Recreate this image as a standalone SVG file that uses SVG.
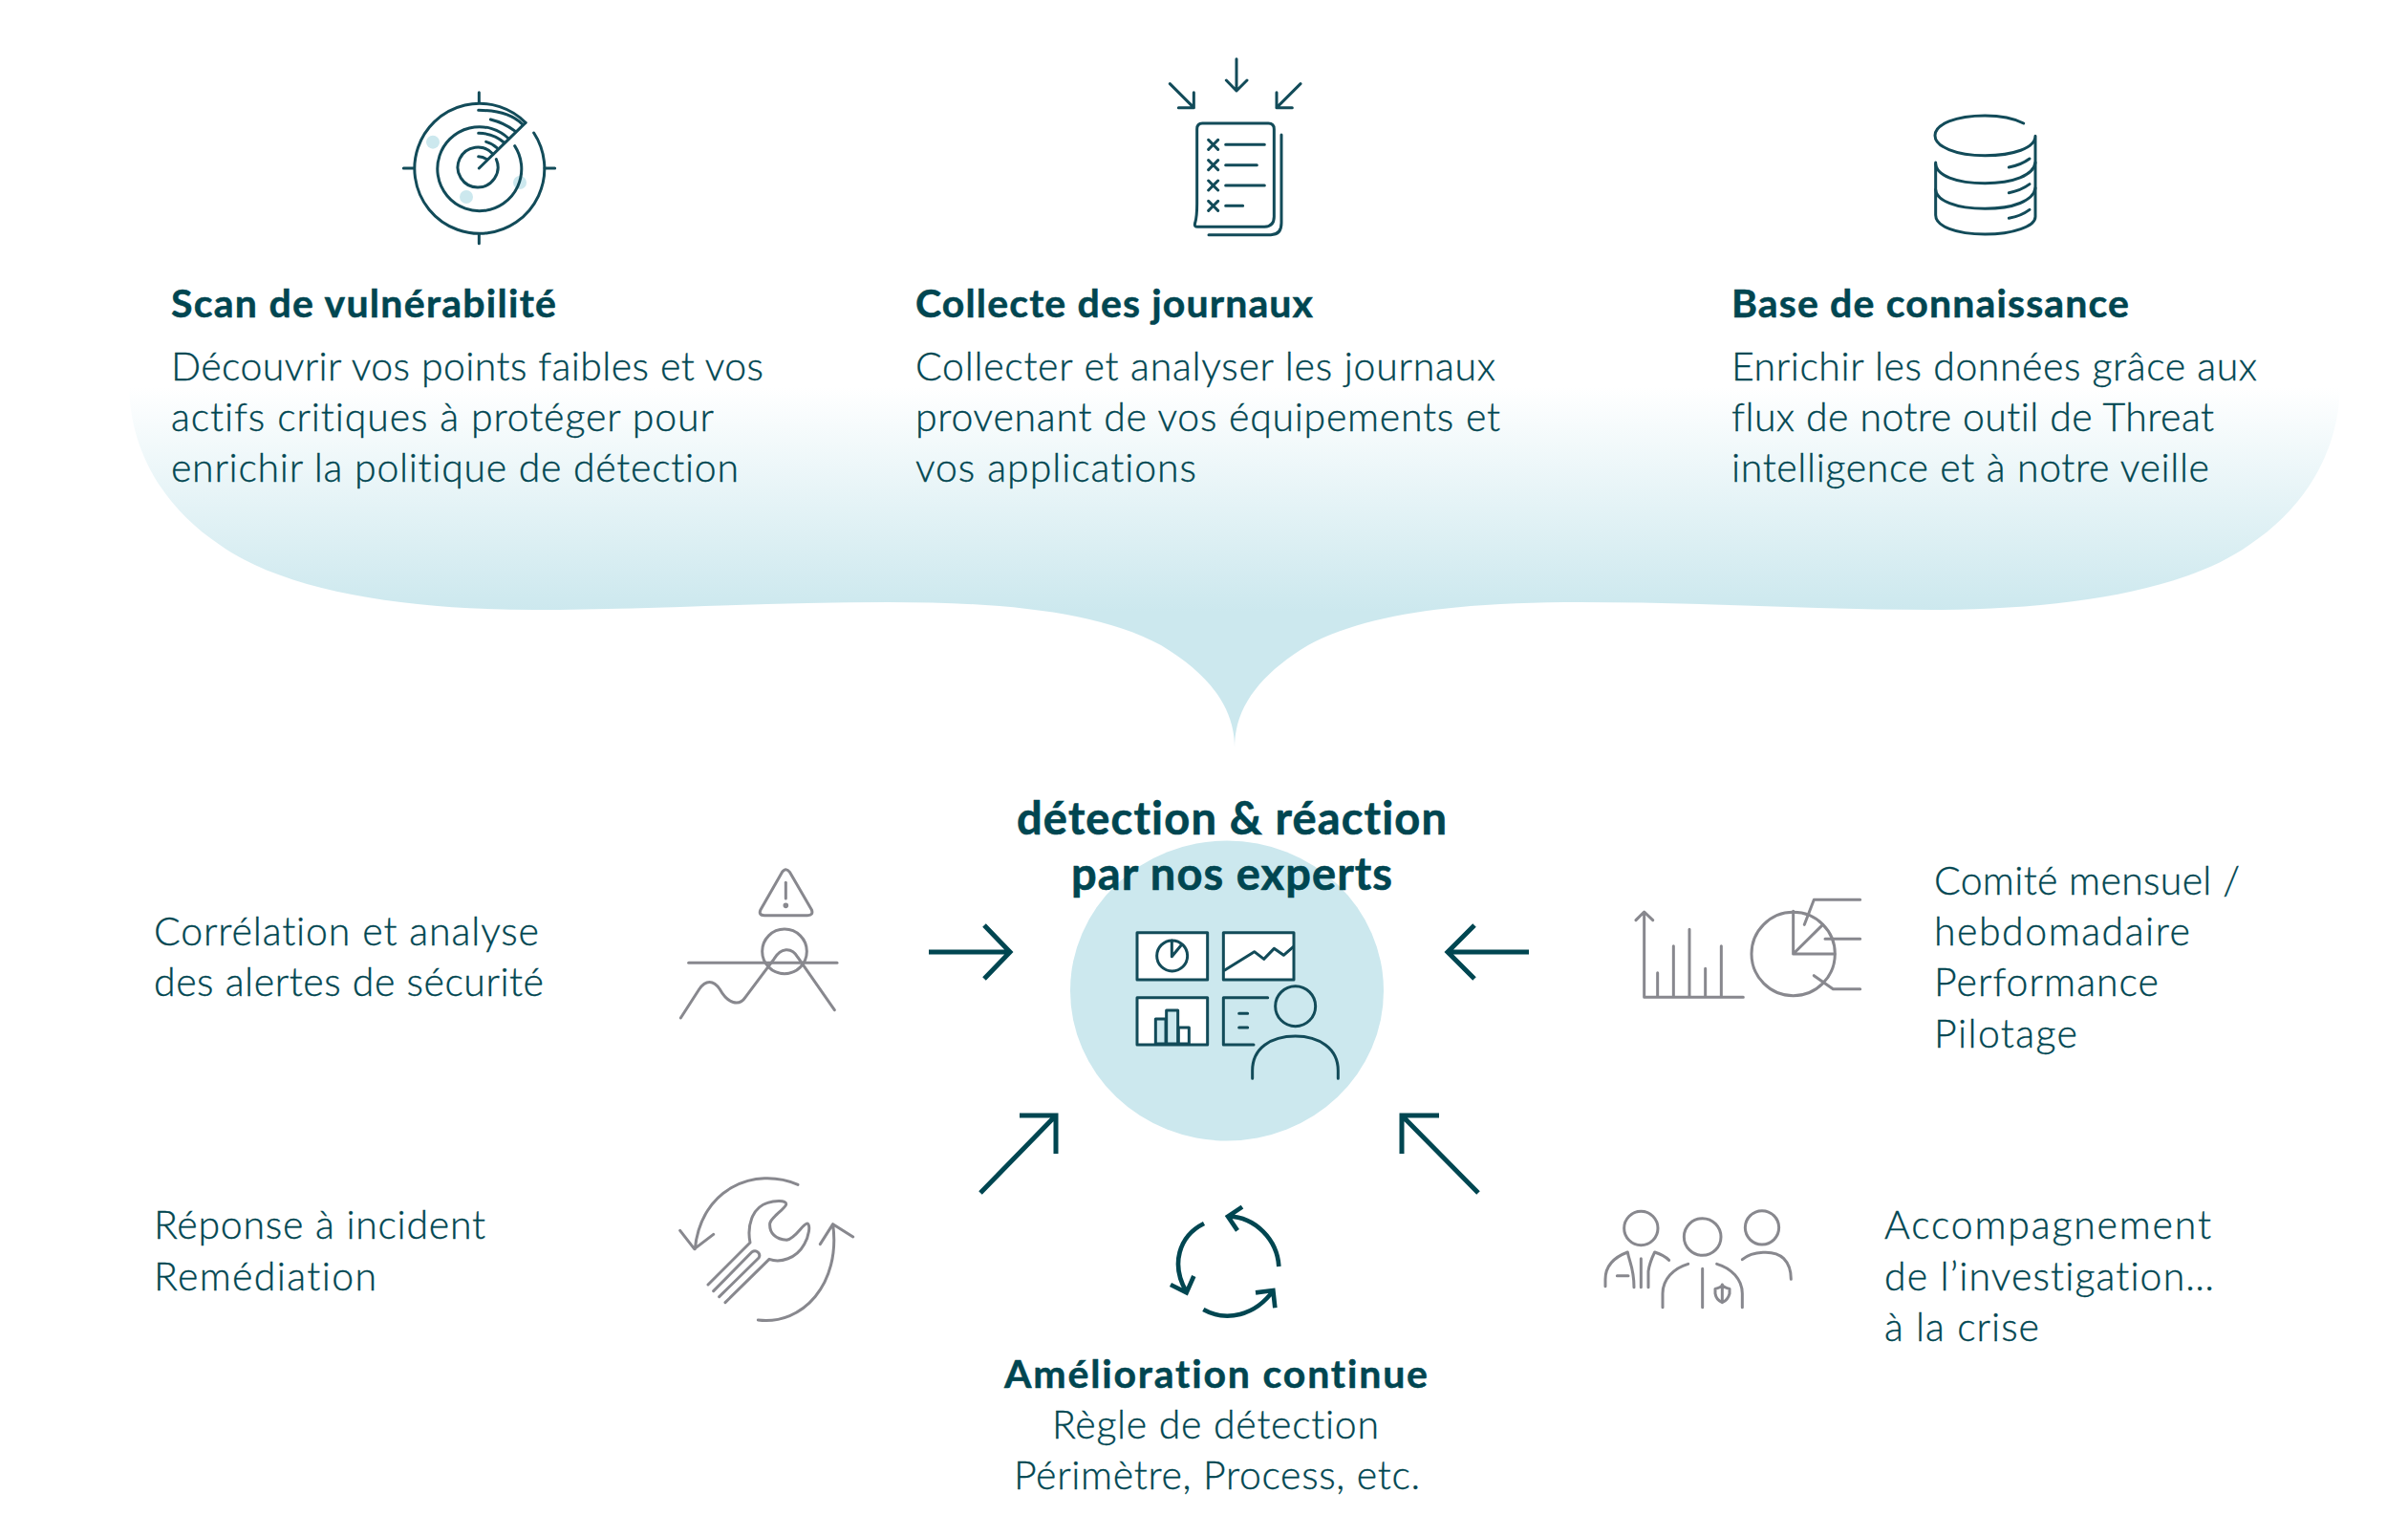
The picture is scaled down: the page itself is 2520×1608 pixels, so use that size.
<svg xmlns="http://www.w3.org/2000/svg" width="2520" height="1608" viewBox="0 0 2520 1608">
<style>
text{font-family:"Lato","Liberation Sans",sans-serif;fill:#004651;font-size:41px;font-weight:300;stroke:#004651;stroke-width:.35;font-variant-ligatures:none}
.b{font-weight:700;font-size:41px;stroke-width:.5}
.h{font-weight:700;font-size:47px;stroke-width:.6}
.d{fill:none;stroke:#124b59;stroke-width:9;stroke-linecap:round;stroke-linejoin:round}
.g{fill:none;stroke:#88888e;stroke-width:9;stroke-linecap:round;stroke-linejoin:round}
.a{fill:none;stroke:#004651;stroke-width:5;stroke-linecap:butt;stroke-linejoin:miter}
</style>
<defs><linearGradient id="fade" gradientUnits="userSpaceOnUse" x1="0" y1="405" x2="0" y2="640"><stop offset="0" stop-color="#fff"/><stop offset="1" stop-color="#cce8ee"/></linearGradient></defs>
<rect width="2520" height="1608" fill="#fff"/>
<path id="funnel" fill="url(#fade)" d="M135 400C135 470 170 530 230 570C300 620 430 638 560 638C680 638 800 630 930 630C1050 630 1150 640 1215 675C1265 705 1292 740 1292 782C1292 740 1319 705 1369 675C1434 640 1534 630 1654 630C1784 630 1904 638 2024 638C2154 638 2284 620 2354 570C2414 530 2449 470 2449 400Z"/>

<g id="scan">
<g transform="translate(380 50) scale(.33333)">
<g fill="#cce8ee"><circle cx="219" cy="296" r="21"/><circle cx="324" cy="468" r="21"/><circle cx="492" cy="423" r="21"/></g>
<g class="d"><path d="M536 267A204 204 0 1 1 510 235"/><path d="M476 308A132 132 0 1 1 457 285"/><path d="M418 350A63 63 0 1 1 408 334"/><path d="M364 378L510 235"/><path d="M364 140V172M364 584V614M127 378H158M570 378H602"/><path d="M362 196C410 196 465 205 500 240M400 225C430 232 455 245 478 262M362 268C390 268 420 278 442 297M386 295C398 298 410 305 420 314M362 341C372 341 380 344 388 350"/></g>
</g>
<text class="b" x="179" y="332" textLength="403">Scan de vulnérabilité</text>
<text x="179" y="398" textLength="620">Découvrir vos points faibles et vos</text>
<text x="179" y="451" textLength="568">actifs critiques à protéger pour</text>
<text x="179" y="504" textLength="594">enrichir la politique de détection</text>
</g>

<g id="journaux">
<g transform="translate(1190 40) scale(.33333)" class="d">
<path d="M312 65V165M280 132L312 165L345 132M103 143L178 218M178 170V218H130M513 143L438 218M438 170V218H487"/>
<path d="M205 267H412Q430 267 430 285V560Q430 590 400 592H190Q178 592 182 580Q188 560 188 520V285Q188 267 205 267Z"/>
<path d="M453 303V580Q453 617 420 617H225"/>
<path d="M224 319L254 349M254 319L224 349M224 383L254 413M254 383L224 413M224 447L254 477M254 447L224 477M224 511L254 541M254 511L224 541"/>
<path d="M278 334H400M278 398H376M278 462H400M278 526H332"/>
</g>
<text class="b" x="958" y="332" textLength="416">Collecte des journaux</text>
<text x="958" y="398" textLength="607">Collecter et analyser les journaux</text>
<text x="958" y="451" textLength="612">provenant de vos équipements et</text>
<text x="958" y="504" textLength="294">vos applications</text>
</g>

<g id="base">
<g transform="translate(2000 100) scale(.33333)" class="d">
<path d="M353 87C320 70 280 63 232 63C140 63 75 90 75 125C75 160 140 188 232 188C320 188 390 165 390 127V380C390 410 320 435 232 435C140 435 77 410 77 375V210"/>
<path d="M77 215C80 250 140 275 232 275C320 275 385 250 390 210M77 295C80 330 140 355 232 355C320 355 385 330 390 290"/>
<path d="M307 225Q345 218 372 198M307 305Q345 298 372 278M307 385Q345 378 372 358"/>
</g>
<text class="b" x="1812" y="332" textLength="416">Base de connaissance</text>
<text x="1812" y="398" textLength="550">Enrichir les données grâce aux</text>
<text x="1812" y="451" textLength="505">flux de notre outil de Threat</text>
<text x="1812" y="504" textLength="500">intelligence et à notre veille</text>
</g>

<g id="centre">
<ellipse cx="1284" cy="1036.5" rx="164" ry="157" fill="#cce8ee"/>
<g transform="translate(1100 880) scale(.33333)" class="d">
<rect x="270" y="287" width="221" height="148" fill="#fff"/>
<rect x="541" y="287" width="221" height="148" fill="#fff"/>
<rect x="270" y="491" width="221" height="148" fill="#fff"/>
<circle cx="380" cy="360" r="48"/><path d="M379 362V312M379 362L410 325"/>
<path d="M545 405L638 347L668 370L700 337L730 358L760 332"/>
<rect x="328" y="558" width="32" height="78" fill="#cce8ee"/><rect x="362" y="531" width="36" height="105" fill="#cce8ee"/><rect x="400" y="585" width="33" height="51" fill="#fff"/>
<path d="M680 491H541V639H636M590 541H617M590 585H617"/>
<circle cx="767" cy="518" r="63"/>
<path d="M632 745V720C632 650 690 612 767 612C840 612 901 650 901 720V745"/>
</g>
<text class="h" x="1064" y="873" textLength="450">détection &amp; réaction</text>
<text class="h" x="1121" y="931" textLength="336">par nos experts</text>
</g>

<g id="correlation">
<g transform="translate(690 890) scale(.33333)" class="g">
<path d="M385 68Q397 50 410 68L478 185Q485 203 465 203H330Q310 203 318 185Z"/>
<path d="M397 100V150"/><circle cx="397" cy="172" r="4"/>
<circle cx="393" cy="316" r="70"/>
<path d="M92 352H558"/>
<path d="M67 525L125 435C145 405 170 405 190 435C215 480 250 490 270 460L360 340C380 305 415 300 435 335L550 500"/>
</g>
<text x="161" y="989" textLength="403">Corrélation et analyse</text>
<text x="161" y="1042" textLength="408">des alertes de sécurité</text>
</g>

<g id="comite">
<g transform="translate(1690 920) scale(.33333)" class="g">
<path d="M92 105V370H403M66 128L92 102L119 128M134 293V370M184 209V370M234 157V370M284 280V370M334 209V370"/>
<circle cx="560" cy="234" r="131"/>
<path d="M560 100V234H690M560 234L652 143M595 142L625 64H770M660 187H770M625 302L685 344H770"/>
</g>
<text x="2024" y="936" textLength="320">Comité mensuel /</text>
<text x="2024" y="989" textLength="268">hebdomadaire</text>
<text x="2024" y="1042" textLength="235">Performance</text>
<text x="2024" y="1096" textLength="150">Pilotage</text>
</g>

<g id="reponse">
<g transform="translate(690 1210) scale(.33333)" class="g">
<path d="M435 88C300 30 130 100 112 290M65 232L110 290L170 244M310 513C450 530 570 400 545 213M505 275L545 212L608 252"/>
<path d="M153 402L285 270C275 220 290 160 340 145C360 138 400 135 398 150C395 165 350 190 347 210C345 240 365 260 400 262C430 255 450 210 465 210C475 215 470 250 455 275C430 320 380 335 345 322L207 458M170 422L290 300C305 290 320 305 312 318L188 440"/>
</g>
<text x="161" y="1296" textLength="347">Réponse à incident</text>
<text x="161" y="1350" textLength="233">Remédiation</text>
</g>

<g id="amelioration">
<g transform="translate(1200 1250) scale(.33333)" class="d" style="stroke:#004651;stroke-width:14;stroke-linecap:butt;stroke-linejoin:miter">
<path d="M415 225C410 140 340 70 258 68M300 38L255 68L285 112M180 90C100 130 75 220 125 305M75 282L125 307L148 255M178 360C250 400 340 380 398 300M342 307L397 300L403 355"/>
</g>
<text class="b" x="1051" y="1452" textLength="443">Amélioration continue</text>
<text x="1101" y="1505" textLength="342">Règle de détection</text>
<text x="1061" y="1558" textLength="425">Périmètre, Process, etc.</text>
</g>

<g id="accompagnement">
<g transform="translate(1660 1250) scale(.33333)" class="g">
<circle cx="172" cy="105" r="53"/><circle cx="365" cy="132" r="58"/><circle cx="552" cy="103" r="53"/>
<path d="M60 287V265C60 220 90 195 130 180C135 210 150 230 150 290M172 200V290M195 290V240C198 220 205 200 215 180C230 185 250 195 260 205M97 254H132"/>
<path d="M240 353V310C240 265 275 230 320 217M410 217C455 230 490 265 490 310V353M365 232V353"/>
<path d="M405 295Q425 290 427 282Q430 290 450 295V310Q445 330 427 338Q408 330 405 310ZM427 285V335"/>
<path d="M490 203C520 178 590 170 620 200C635 215 643 240 643 265"/>
</g>
<text x="1972" y="1296" textLength="342">Accompagnement</text>
<text x="1972" y="1350" textLength="345">de l’investigation…</text>
<text x="1972" y="1403" textLength="162">à la crise</text>
</g>

<g id="connectors" class="a">
<path d="M972 996H1057M1030 968L1057 996L1030 1024"/>
<path d="M1600 996H1515M1543 968L1515 996L1543 1024"/>
<path d="M1026 1248L1105 1167M1067 1167H1105V1207"/>
<path d="M1547 1248L1467 1167M1506 1167H1467V1207"/>
</g>
</svg>
